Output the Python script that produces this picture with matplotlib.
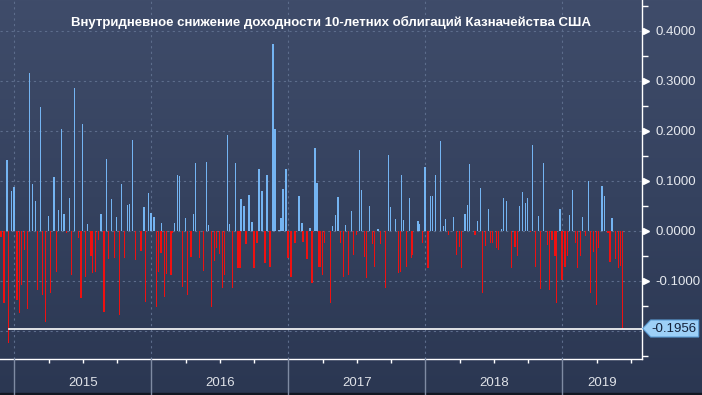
import numpy as np
import matplotlib
matplotlib.use('Agg')
import matplotlib.pyplot as plt
from matplotlib import transforms
from matplotlib.patches import Polygon, Rectangle
from matplotlib.colors import LinearSegmentedColormap

plt.rcParams['font.family'] = ['Liberation Sans', 'DejaVu Sans']
plt.rcParams['axes.unicode_minus'] = False

# time of each bar (decimal year) and intraday yield change
t = [
    2014.903, 2014.923, 2014.945, 2014.959, 2014.981, 2014.996, 2015.018, 2015.039,
    2015.054, 2015.076, 2015.098, 2015.112, 2015.134, 2015.156, 2015.171, 2015.193,
    2015.207, 2015.229, 2015.251, 2015.266, 2015.288, 2015.309, 2015.324, 2015.346,
    2015.361, 2015.382, 2015.404, 2015.419, 2015.441, 2015.470,
    2015.485, 2015.499, 2015.521, 2015.536, 2015.558, 2015.572, 2015.594, 2015.616,
    2015.631, 2015.653, 2015.674, 2015.689, 2015.711, 2015.733, 2015.747, 2015.769,
    2015.784, 2015.806, 2015.828, 2015.842, 2015.864, 2015.886, 2015.923, 2015.945,
    2015.959, 2015.981, 2015.996, 2016.018, 2016.039, 2016.054,
    2016.069, 2016.076, 2016.098, 2016.112, 2016.142, 2016.156, 2016.171, 2016.193,
    2016.207, 2016.229, 2016.251, 2016.266, 2016.288, 2016.309, 2016.324, 2016.353,
    2016.382, 2016.404, 2016.419, 2016.441, 2016.463, 2016.477, 2016.499, 2016.521,
    2016.536, 2016.558, 2016.572, 2016.594, 2016.616, 2016.631,
    2016.647, 2016.655, 2016.677, 2016.691, 2016.713, 2016.735, 2016.750, 2016.772,
    2016.786, 2016.808, 2016.830, 2016.845, 2016.867, 2016.888, 2016.903, 2016.932,
    2016.947, 2016.961, 2016.983, 2016.998, 2017.020, 2017.049, 2017.078, 2017.100,
    2017.107, 2017.137, 2017.159, 2017.173, 2017.195, 2017.210, 2017.224,
    2017.236, 2017.251, 2017.266, 2017.309, 2017.324, 2017.346, 2017.361, 2017.382,
    2017.404, 2017.419, 2017.441, 2017.463, 2017.477, 2017.499, 2017.521, 2017.536,
    2017.558, 2017.572, 2017.594, 2017.616, 2017.631, 2017.653, 2017.674, 2017.711,
    2017.733, 2017.747, 2017.784, 2017.806,
    2017.820, 2017.828, 2017.842, 2017.864, 2017.886, 2017.901, 2017.908, 2017.945,
    2017.959, 2017.981, 2017.996, 2018.018, 2018.039, 2018.054, 2018.076, 2018.112,
    2018.134, 2018.149, 2018.171, 2018.207, 2018.229, 2018.251, 2018.266, 2018.288,
    2018.309, 2018.324, 2018.361, 2018.382,
    2018.404, 2018.419, 2018.441, 2018.463, 2018.477, 2018.492, 2018.521, 2018.536,
    2018.558, 2018.572, 2018.594, 2018.631, 2018.653, 2018.674, 2018.689, 2018.711,
    2018.733, 2018.747, 2018.769, 2018.784, 2018.806, 2018.828, 2018.842, 2018.864,
    2018.893, 2018.908, 2018.923, 2018.945, 2018.959, 2018.982,
    2018.996, 2019.018, 2019.039, 2019.054, 2019.076, 2019.098, 2019.112, 2019.134,
    2019.149, 2019.171, 2019.193, 2019.207, 2019.229, 2019.251, 2019.266, 2019.288,
    2019.309, 2019.333, 2019.347, 2019.361, 2019.390, 2019.412, 2019.426, 2019.441,
]
chg = [
    -0.012, -0.145, 0.141, -0.225, 0.079, 0.088, -0.139, -0.165,
    -0.109, -0.039, -0.157, 0.316, 0.093, 0.059, -0.119, 0.247,
    -0.129, -0.182, 0.029, -0.124, 0.107, -0.082, 0.041, 0.203,
    0.033, -0.005, 0.065, -0.089, 0.285, -0.015,
    -0.135, 0.213, -0.092, 0.013, -0.051, -0.085, -0.082, -0.019,
    0.033, -0.162, 0.143, -0.057, 0.063, -0.055, 0.027, -0.169,
    0.093, -0.055, 0.051, 0.053, 0.181, -0.059, -0.041, 0.047,
    -0.143, 0.075, 0.036, 0.027, -0.152, -0.082,
    -0.045, 0.015, -0.132, -0.087, -0.089, -0.005, 0.016, 0.111,
    0.109, -0.112, 0.025, -0.129, -0.053, 0.033, 0.135, -0.055,
    -0.080, 0.137, 0.011, -0.152, -0.060, -0.035, -0.047, -0.115,
    -0.089, 0.191, 0.013, -0.114, 0.135, -0.075,
    -0.075, 0.063, 0.049, -0.027, 0.071, 0.018, -0.075, -0.024,
    0.123, 0.079, -0.064, 0.111, -0.072, 0.373, 0.203, 0.001,
    0.025, 0.083, 0.123, -0.055, -0.093, -0.024, 0.069, 0.016,
    -0.022, -0.057, 0.005, -0.104, 0.165, 0.095, -0.072,
    -0.072, -0.089, -0.025, -0.145, 0.009, 0.031, 0.067, -0.024,
    -0.092, 0.011, -0.089, 0.039, -0.049, -0.009, 0.161, 0.081,
    -0.053, -0.095, 0.049, -0.027, -0.073, 0.003, -0.027, -0.115,
    0.151, 0.047, 0.023, -0.084,
    -0.082, 0.111, 0.021, -0.073, 0.065, -0.055, -0.049, 0.019,
    0.013, -0.024, 0.127, -0.075, 0.069, 0.069, 0.111, 0.179,
    0.010, 0.023, -0.009, 0.027, -0.049, -0.032, -0.075, 0.033,
    0.051, 0.133, -0.009, 0.019,
    0.085, -0.125, -0.031, 0.043, -0.025, -0.024, -0.035, -0.039,
    0.003, 0.065, 0.059, -0.075, -0.032, -0.051, 0.049, 0.077,
    0.056, 0.065, -0.003, 0.171, -0.072, 0.029, -0.117, 0.135,
    -0.029, -0.119, -0.019, -0.051, -0.144, 0.043,
    -0.099, -0.072, -0.051, 0.031, 0.081, -0.025, -0.075, -0.051,
    0.027, -0.011, 0.099, -0.125, -0.042, -0.149, -0.034, 0.089,
    0.069, -0.005, -0.062, 0.025, -0.057, -0.075, -0.071, -0.1956,
]

last_value = -0.1956
years = [2015, 2016, 2017, 2018, 2019]
year_labels = ['2015', '2016', '2017', '2018', '2019']
y_major = [0.4, 0.3, 0.2, 0.1, 0.0, -0.1, -0.2]
y_minor = [0.45, 0.35, 0.25, 0.15, 0.05, -0.05, -0.15, -0.25]
title = 'Внутридневное снижение доходности 10-летних облигаций Казначейства США'

x_lo, x_hi = 2014.8956, 2019.5796

W, H = 702, 395
fig = plt.figure(figsize=(W / 100, H / 100), dpi=100)

# gradient background
bg = fig.add_axes([0, 0, 1, 1], zorder=0)
cmap = LinearSegmentedColormap.from_list('bg', ['#3f4c6a', '#35425f', '#2b3752'])
bg.imshow(np.linspace(0, 1, 256).reshape(-1, 1), aspect='auto', cmap=cmap,
          extent=[0, 1, 0, 1])
bg.axis('off')
bg.add_patch(Rectangle((0, 0), 1, 2 / H, color='#121722', transform=bg.transAxes))

ax_bottom = 1 - 359.3 / H
ax = fig.add_axes([0, ax_bottom, 641.7 / W, 359.3 / H], zorder=1)
ax.patch.set_alpha(0)

colors = ['#74b4f2' if v > 0 else '#ee1111' for v in chg]
ax.bar(t, chg, width=0.011, color=colors, linewidth=0, zorder=2)

ax.set_xlim(x_lo, x_hi)
ax.set_ylim(-0.2572, 0.4614)

# y axis on the right; the -0.2 label sits under the value box
ax.yaxis.tick_right()
ax.set_yticks(y_major)
ax.set_yticklabels([f'{v:.4f}' if v > -0.15 else '' for v in y_major])
ax.set_yticks(y_minor, minor=True)
ax.tick_params(axis='y', which='major', length=0, pad=10, labelsize=9.5,
               labelcolor='#e6e9ef')
ax.tick_params(axis='y', which='minor', length=4, width=1, color='white',
               direction='out')
ax.plot([1 + 4 / 641.7] * (len(y_major) - 1), y_major[:-1], ls='none', marker='>',
        ms=5, color='white', transform=ax.get_yaxis_transform(), clip_on=False,
        zorder=5)

# x axis
ax.set_xticks(years)
ax.set_xticklabels([])
ax.set_xticks([y + q for y in [2014] + years for q in (0.25, 0.5, 0.75)
               if x_lo < y + q < x_hi], minor=True)
ax.tick_params(axis='x', which='major', length=0)
ax.tick_params(axis='x', which='minor', length=3, width=1, color='white',
               direction='out')

for s in ['top', 'left']:
    ax.spines[s].set_visible(False)
for s in ['right', 'bottom']:
    ax.spines[s].set_color('white')
    ax.spines[s].set_linewidth(1)

ax.grid(True, which='major', color='#5d6d8c', linestyle=(0, (2, 3)), linewidth=0.8)
ax.set_axisbelow(True)

# reference line at the latest value
ax.axhline(last_value, xmin=9.3 / 641.7, xmax=1, color='white', lw=1.2, zorder=3)

# year separators and labels below the axis
xfig = transforms.blended_transform_factory(ax.transData, fig.transFigure)
for y, lab in zip(years, year_labels):
    fig.add_artist(plt.Line2D([y, y], [0, ax_bottom], color='#7f8ba3', lw=1,
                              transform=xfig))
    mid = (y + min(y + 1, x_hi)) / 2
    fig.text(mid, 1 - 383 / H, lab, transform=xfig, ha='center', va='center',
             fontsize=9.5, color='#dfe2e8')

# label box for the latest value
fig.canvas.draw()
xs = ax.transAxes.transform((1, 0))[0]
yd = ax.transData.transform((0, last_value))[1]
pts = [(xs + 1, yd), (xs + 9, yd + 8.5), (xs + 57, yd + 8.5),
       (xs + 57, yd - 8.5), (xs + 9, yd - 8.5)]
fig.add_artist(Polygon(pts, closed=True, facecolor='#9dd0f7', edgecolor='#5e9fd6',
                       lw=0.8, transform=transforms.IdentityTransform(), zorder=6))
fig.text(xs + 10, yd, f'{last_value:.4f}', transform=transforms.IdentityTransform(),
         ha='left', va='center', fontsize=9.5, color='#13213a', zorder=7)

fig.text(331 / W, 1 - 22 / H, title, ha='center', va='center', fontsize=9.5,
         fontweight='bold', color='white')

fig.savefig('out.png', dpi=100)
